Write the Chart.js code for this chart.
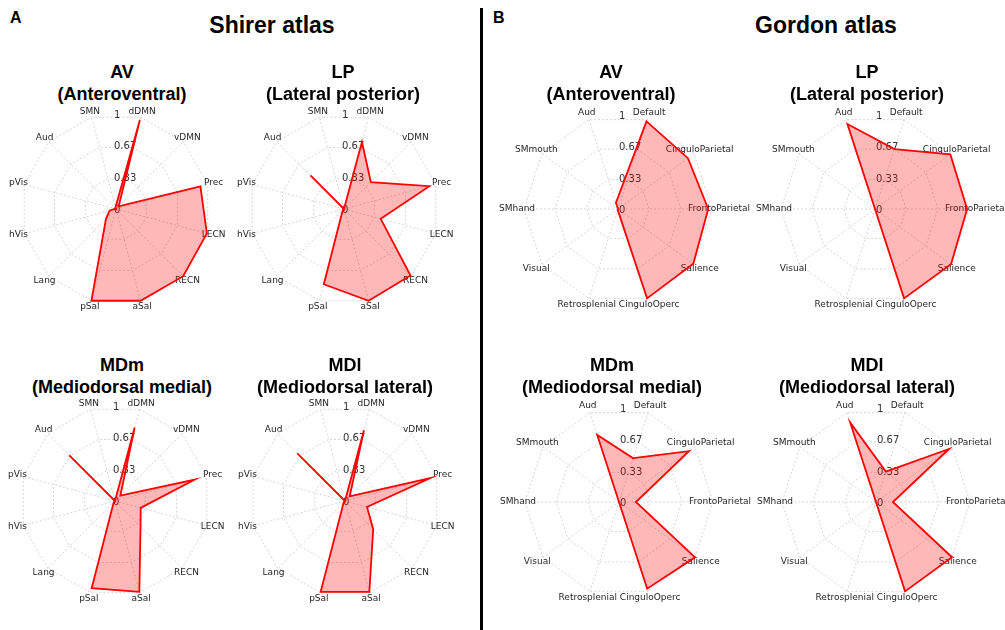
<!DOCTYPE html>
<html>
<head>
<meta charset="utf-8">
<script src="https://cdn.jsdelivr.net/npm/chart.js@4.4.1/dist/chart.umd.min.js"></script>
<style>
    body { margin: 0; width: 1005px; height: 630px; overflow: hidden; position: relative; background: #fff; }
    .txt { position: absolute; font-family: "Liberation Sans", Arial, Helvetica, sans-serif; font-weight: bold; color: #000; white-space: nowrap; }
    .letra { font-size: 16px; line-height: 20px; }
    .atlas { font-size: 23px; line-height: 26px; width: 300px; text-align: center; }
    .sub { font-size: 18px; line-height: 22px; width: 300px; text-align: center; }
    canvas { position: absolute; }
    #divisor { position: absolute; left: 480px; top: 8px; width: 3px; height: 622px; background: #000; }
</style>
</head>
<body>
<div class="txt letra" style="left:10px; top:8px;">A</div>
<div class="txt letra" style="left:493px; top:8px;">B</div>
<div class="txt atlas" style="left:122px; top:12px;">Shirer atlas</div>
<div class="txt atlas" style="left:676px; top:12px;">Gordon atlas</div>
<div id="divisor"></div>

<script>
// ---------------------------------------------------------
// DATOS
// ---------------------------------------------------------
const redesShirer = ['dDMN', 'vDMN', 'Prec', 'LECN', 'RECN', 'aSal', 'pSal', 'Lang', 'hVis', 'pVis', 'Aud', 'SMN'];
const redesGordon = ['Default', 'CinguloParietal', 'FrontoParietal', 'Salience', 'CinguloOperc', 'Retrosplenial', 'Visual', 'SMhand', 'SMmouth', 'Aud'];

const ticksRadiales = [0, 0.33, 0.67, 1];
const etiquetasTicks = ['0', '0.33', '0.67', '1'];

const shirerAV  = [0.97, 0.04, 0.92, 0.99, 1.00, 1.00, 1.00, 0.15, 0.07, 0.01, 0.00, 0.02];
const shirerLP  = [0.73, 0.40, 0.93, 0.40, 0.99, 1.00, 0.82, 0.02, 0.00, 0.00, 0.50, 0.00];
const shirerMDm = [0.80, 0.08, 0.87, 0.28, 0.38, 0.99, 0.95, 0.02, 0.00, 0.00, 0.68, 0.00];
const shirerMDl = [0.77, 0.07, 0.93, 0.24, 0.42, 0.99, 0.99, 0.02, 0.00, 0.00, 0.71, 0.00];

const gordonAV  = [0.98, 0.92, 0.96, 0.99, 1.00, 0.01, 0.00, 0.00, 0.00, 0.07];
const gordonLP  = [0.67, 0.99, 0.98, 1.00, 1.00, 0.00, 0.00, 0.00, 0.00, 0.95];
const gordonMDm = [0.49, 0.92, 0.18, 1.00, 0.97, 0.00, 0.00, 0.00, 0.00, 0.75];
const gordonMDl = [0.34, 0.96, 0.18, 1.00, 1.00, 0.00, 0.00, 0.00, 0.00, 0.89];

const titulosAV  = ['AV', '(Anteroventral)'];
const titulosLP  = ['LP', '(Lateral posterior)'];
const titulosMDm = ['MDm', '(Mediodorsal medial)'];
const titulosMDl = ['MDl', '(Mediodorsal lateral)'];

// Paneles: posición del centro (cx, cy), radio y centro del título (tx, ty)
const paneles = [
    { etiquetas: redesShirer, valores: shirerAV,  titulo: titulosAV,  inicio: 15, cx: 116, cy: 209, radio: 95, tx: 122, ty: 61,  sep: 6, dxTick: -2 },
    { etiquetas: redesShirer, valores: shirerLP,  titulo: titulosLP,  inicio: 15, cx: 344, cy: 209, radio: 95, tx: 343, ty: 61,  sep: 6, dxTick: -2 },
    { etiquetas: redesShirer, valores: shirerMDm, titulo: titulosMDm, inicio: 15, cx: 115, cy: 501, radio: 95, tx: 122, ty: 354, sep: 6, dxTick: -2 },
    { etiquetas: redesShirer, valores: shirerMDl, titulo: titulosMDl, inicio: 15, cx: 345, cy: 501, radio: 95, tx: 345, ty: 354, sep: 6, dxTick: -2 },
    { etiquetas: redesGordon, valores: gordonAV,  titulo: titulosAV,  inicio: 18, cx: 618, cy: 209, radio: 94, tx: 611, ty: 61,  sep: 7, dxTick: 1 },
    { etiquetas: redesGordon, valores: gordonLP,  titulo: titulosLP,  inicio: 18, cx: 875, cy: 209, radio: 94, tx: 867, ty: 61,  sep: 7, dxTick: 1 },
    { etiquetas: redesGordon, valores: gordonMDm, titulo: titulosMDm, inicio: 18, cx: 619, cy: 502, radio: 94, tx: 612, ty: 354, sep: 7, dxTick: 1 },
    { etiquetas: redesGordon, valores: gordonMDl, titulo: titulosMDl, inicio: 18, cx: 876, cy: 502, radio: 94, tx: 867, ty: 354, sep: 7, dxTick: 1 }
];

// Etiquetas de redes y de ticks dibujadas antes del polígono (la línea roja queda encima)
const etiquetasPlugin = {
    id: 'etiquetasRadar',
    beforeDatasetsDraw(chart, args, opts) {
        const escala = chart.scales.r;
        const ctx = chart.ctx;
        ctx.save();
        ctx.font = '9px "DejaVu Sans"';
        ctx.fillStyle = '#262626';
        ctx.textAlign = 'center';
        ctx.textBaseline = 'middle';
        chart.data.labels.forEach((lab, i) => {
            const p = escala.getPointPosition(i, escala.drawingArea + opts.sep);
            ctx.fillText(lab, p.x, p.y);
        });
        ctx.font = '10px "DejaVu Sans"';
        ctx.fillStyle = '#333';
        ctx.textAlign = 'left';
        ticksRadiales.forEach((v, k) => {
            const d = escala.getDistanceFromCenterForValue(v);
            ctx.fillText(etiquetasTicks[k], escala.xCenter + opts.dxTick, escala.yCenter - d + 1);
        });
        ctx.restore();
    }
};

const ANCHO = 300, ALTO = 260;

paneles.forEach(p => {
    // Título del panel
    const div = document.createElement('div');
    div.className = 'txt sub';
    div.style.left = (p.tx - 150) + 'px';
    div.style.top = p.ty + 'px';
    div.innerHTML = p.titulo.join('<br>');
    document.body.appendChild(div);

    const canvas = document.createElement('canvas');
    canvas.width = ANCHO;
    canvas.height = ALTO;
    canvas.style.left = (p.cx - ANCHO / 2) + 'px';
    canvas.style.top = (p.cy - ALTO / 2) + 'px';
    document.body.appendChild(canvas);

    const padX = (ANCHO - 2 * p.radio) / 2;
    const padY = (ALTO - 2 * p.radio) / 2;

    const grafico = new Chart(canvas, {
        type: 'radar',
        data: {
            labels: p.etiquetas,
            datasets: [{
                data: p.valores,
                borderColor: '#ff0000',
                backgroundColor: 'rgba(255, 0, 0, 0.28)',
                borderWidth: 1.8,
                fill: true,
                pointRadius: 0,
                tension: 0
            }]
        },
        options: {
            responsive: false,
            animation: false,
            layout: { padding: { left: padX, right: padX, top: padY, bottom: padY } },
            plugins: {
                legend: { display: false },
                tooltip: { enabled: false },
                etiquetasRadar: { sep: p.sep, dxTick: p.dxTick }
            },
            scales: {
                r: {
                    min: 0,
                    max: 1,
                    startAngle: p.inicio,
                    afterBuildTicks: (escala) => { escala.ticks = ticksRadiales.map(v => ({ value: v })); },
                    ticks: { display: false },
                    pointLabels: { display: false },
                    grid: { circular: false, color: '#cccccc', lineWidth: 0.8, borderDash: [2, 2] },
                    border: { dash: [2, 2] },
                    angleLines: { color: '#cccccc', lineWidth: 0.8, borderDash: [2, 2] }
                }
            }
        },
        plugins: [etiquetasPlugin]
    });

    // Ajuste fino: colocar el centro real de la escala en (cx, cy)
    const r = grafico.scales.r;
    canvas.style.left = (p.cx - r.xCenter) + 'px';
    canvas.style.top = (p.cy - r.yCenter) + 'px';
});
</script>
</body>
</html>
